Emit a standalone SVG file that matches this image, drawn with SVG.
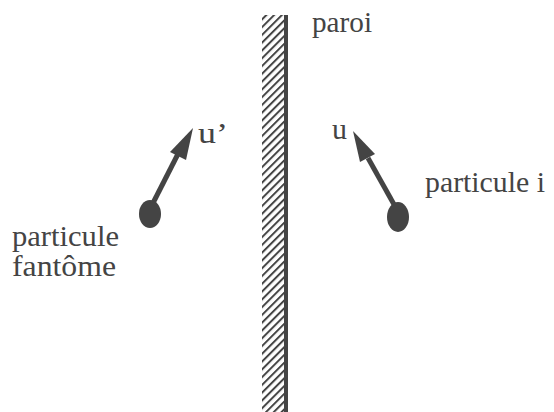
<svg xmlns="http://www.w3.org/2000/svg" width="554" height="412" viewBox="0 0 554 412">
<style>
text{font-family:"Liberation Serif","Times New Roman",serif;fill:#444;font-size:29px}
.vec{stroke:#444;stroke-width:5;fill:none}
.head{fill:#444}
.part{fill:#444}
</style>
<defs>
<pattern id="hatch" width="5.5" height="5.5" patternUnits="userSpaceOnUse" patternTransform="rotate(45)">
<rect width="5.5" height="5.5" fill="#fff"/>
<line x1="1" y1="0" x2="1" y2="5.5" stroke="#444" stroke-width="2"/>
</pattern>
</defs>
<rect width="554" height="412" fill="#fff"/>
<g id="paroi">
<rect x="262" y="15" width="23" height="397" fill="url(#hatch)"/>
<rect x="284" y="15" width="4" height="397" fill="#444"/>
<text x="312" y="32" textLength="60" lengthAdjust="spacingAndGlyphs">paroi</text>
</g>
<g id="fantome">
<ellipse class="part" cx="150" cy="214" rx="11" ry="14"/>
<text x="12" y="246" textLength="107" lengthAdjust="spacingAndGlyphs">particule</text>
<text x="12" y="276" textLength="104" lengthAdjust="spacingAndGlyphs">fantôme</text>
</g>
<g id="particule-i">
<ellipse class="part" cx="398" cy="217" rx="11" ry="15"/>
<text x="425" y="192" textLength="120" lengthAdjust="spacingAndGlyphs">particule i</text>
</g>
<g id="connectors">
<line class="vec" x1="152" y1="205" x2="180" y2="150"/>
<polygon class="head" points="193,128 186,160 170,152"/>
<text x="198" y="143" textLength="30" lengthAdjust="spacingAndGlyphs">u’</text>
<line class="vec" x1="396" y1="208" x2="368" y2="158"/>
<polygon class="head" points="353,131 375,154 360,162"/>
<text x="332" y="139" textLength="15" lengthAdjust="spacingAndGlyphs">u</text>
</g>
</svg>
